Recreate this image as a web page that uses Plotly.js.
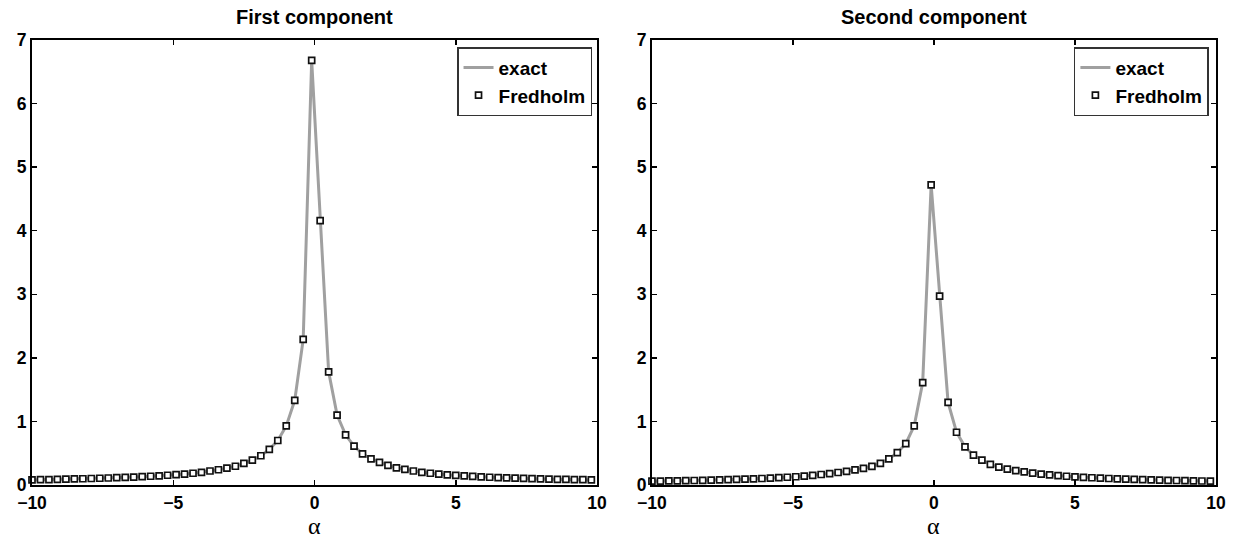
<!DOCTYPE html>
<html>
<head>
<meta charset="utf-8">
<script src="https://cdn.plot.ly/plotly-3.0.1.min.js"></script>
<style>html,body{margin:0;padding:0;background:#fff;}#chart{width:1234px;height:540px;}</style>
</head>
<body>
<div id="chart"></div>
<script>
// sample points alpha
var alpha = [-10,-9.7,-9.4,-9.1,-8.8,-8.5,-8.2,-7.9,-7.6,-7.3,-7,-6.7,-6.4,-6.1,-5.8,-5.5,-5.2,-4.9,-4.6,-4.3,-4,-3.7,-3.4,-3.1,-2.8,-2.5,-2.2,-1.9,-1.6,-1.3,-1,-0.7,-0.4,-0.1,0.2,0.5,0.8,1.1,1.4,1.7,2,2.3,2.6,2.9,3.2,3.5,3.8,4.1,4.4,4.7,5,5.3,5.6,5.9,6.2,6.5,6.8,7.1,7.4,7.7,8,8.3,8.6,8.9,9.2,9.5,9.8];

var firstComponent = [0.08,0.083,0.086,0.089,0.092,0.095,0.098,0.102,0.106,0.11,0.115,0.12,0.125,0.131,0.138,0.145,0.153,0.162,0.172,0.185,0.2,0.22,0.24,0.265,0.295,0.34,0.39,0.46,0.56,0.70,0.93,1.33,2.29,6.68,
  4.16,1.78,1.10,0.79,0.61,0.49,0.41,0.355,0.31,0.27,0.245,0.22,0.20,0.185,0.17,0.16,0.15,0.142,0.135,0.128,0.122,0.117,0.112,0.107,0.103,0.099,0.096,0.093,0.09,0.087,0.085,0.083,0.08];

var secondComponent = [0.06,0.062,0.064,0.066,0.068,0.071,0.074,0.077,0.08,0.084,0.088,0.092,0.097,0.102,0.108,0.115,0.122,0.13,0.14,0.152,0.165,0.18,0.197,0.215,0.237,0.262,0.292,0.34,0.41,0.51,0.65,0.93,1.61,4.72,
  2.97,1.30,0.83,0.60,0.47,0.39,0.325,0.28,0.25,0.225,0.205,0.187,0.172,0.16,0.148,0.138,0.129,0.121,0.114,0.108,0.102,0.097,0.092,0.088,0.084,0.08,0.077,0.074,0.071,0.068,0.066,0.063,0.061];

var xTickVals = [-10,-5,0,5,10];
var yTickVals = [0,1,2,3,4,5,6,7];
var titles = ['First component','Second component'];
var xTitle = 'α';
var seriesNames = ['exact','Fredholm'];

var lineStyle = {color:'#a0a0a0', width:3};
var markerStyle = {symbol:'square', size:6, color:'#fff', line:{width:1.7, color:'#111'}};

var traces = [
  {x:alpha, y:firstComponent, mode:'lines', name:seriesNames[0], line:lineStyle, xaxis:'x', yaxis:'y', legend:'legend'},
  {x:alpha, y:firstComponent, mode:'markers', name:seriesNames[1], marker:markerStyle, xaxis:'x', yaxis:'y', legend:'legend', cliponaxis:false},
  {x:alpha, y:secondComponent, mode:'lines', name:seriesNames[0], line:lineStyle, xaxis:'x2', yaxis:'y2', legend:'legend2'},
  {x:alpha, y:secondComponent, mode:'markers', name:seriesNames[1], marker:markerStyle, xaxis:'x2', yaxis:'y2', legend:'legend2', cliponaxis:false}
];

var tickFont = {family:'Liberation Sans, Arial, sans-serif', size:17.5, color:'#000', weight:'bold'};
function xax(domain, anchor){
  return {domain:domain, anchor:anchor, range:[-10,10], tickvals:xTickVals, ticks:'inside', ticklen:5, tickwidth:1.5, tickcolor:'#000',
    showline:true, linecolor:'#000', linewidth:2, mirror:'ticks', showgrid:false, zeroline:false, tickfont:tickFont, ticklabelstandoff:1};
}
function yax(anchor){
  return {domain:[0,1], anchor:anchor, range:[0,7], tickvals:yTickVals, ticks:'inside', ticklen:5, tickwidth:1.5, tickcolor:'#000',
    showline:true, linecolor:'#000', linewidth:2, mirror:'ticks', showgrid:false, zeroline:false, tickfont:tickFont, ticklabelstandoff:0};
}
var legFont = {family:'Liberation Sans, Arial, sans-serif', size:19, color:'#000', weight:'bold'};
var titleFont = {family:'Liberation Sans, Arial, sans-serif', size:20, color:'#000', weight:'bold'};
var alphaFont = {family:'Liberation Serif, Times New Roman, serif', size:24, color:'#000'};
var layout = {
  width:1234, height:540,
  margin:{l:32, r:18, t:40, b:55},
  paper_bgcolor:'#fff', plot_bgcolor:'#fff',
  showlegend:true,
  xaxis:xax([0,0.4772],'y'), yaxis:yax('x'),
  xaxis2:xax([0.5236,1],'y2'), yaxis2:yax('x2'),
  legend:{x:0.473, y:0.984, xanchor:'right', yanchor:'top', bgcolor:'#fff', bordercolor:'#333', borderwidth:1.5, font:legFont, tracegroupgap:0},
  legend2:{x:0.994, y:0.984, xanchor:'right', yanchor:'top', bgcolor:'#fff', bordercolor:'#333', borderwidth:1.5, font:legFont, tracegroupgap:0},
  annotations:[
    {text:titles[0], xref:'paper', yref:'paper', x:0.2386, y:1.0517, xanchor:'center', yanchor:'middle', showarrow:false, font:titleFont},
    {text:titles[1], xref:'paper', yref:'paper', x:0.7618, y:1.0517, xanchor:'center', yanchor:'middle', showarrow:false, font:titleFont},
    {text:xTitle, xref:'paper', yref:'paper', x:0.2386, y:-0.0921, xanchor:'center', yanchor:'middle', showarrow:false, borderpad:0, font:alphaFont},
    {text:xTitle, xref:'paper', yref:'paper', x:0.7618, y:-0.0921, xanchor:'center', yanchor:'middle', showarrow:false, borderpad:0, font:alphaFont}
  ]
};
Plotly.newPlot('chart', traces, layout, {displayModeBar:false, staticPlot:true});
</script>
</body>
</html>
